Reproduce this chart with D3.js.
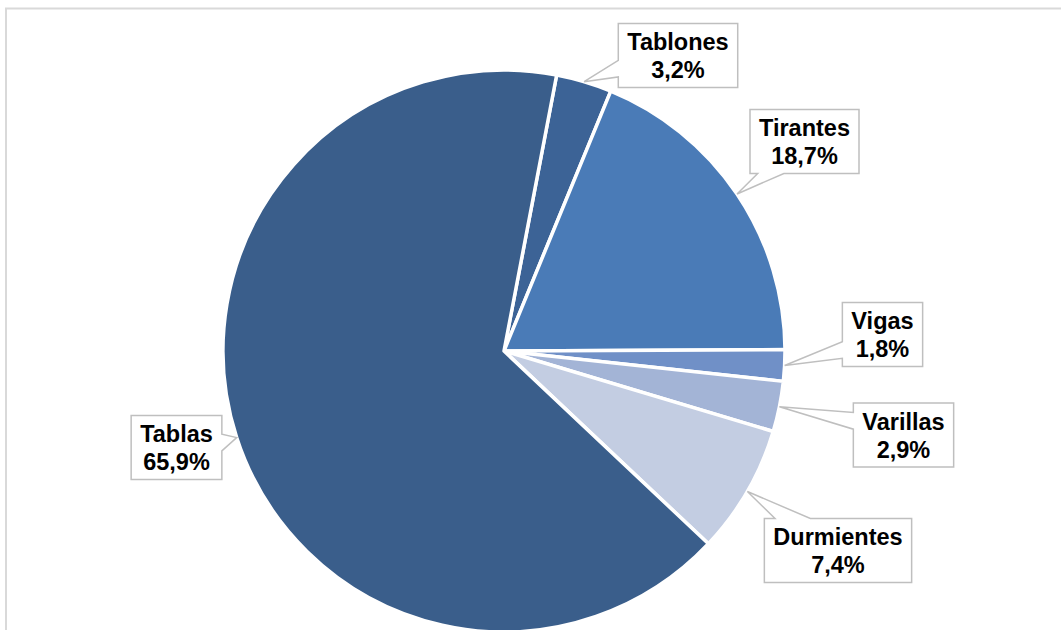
<!DOCTYPE html>
<html><head><meta charset="utf-8">
<script src="https://cdn.jsdelivr.net/npm/d3@7"></script>
<style>html,body{margin:0;padding:0;background:#fff;overflow:hidden}</style>
</head><body>
<svg id="c" width="1061" height="630"></svg>
<script>
const categories = ["Tablones", "Tirantes", "Vigas", "Varillas", "Durmientes", "Tablas"];
const values = [3.2, 18.7, 1.8, 2.9, 7.4, 65.9];
const labels = ["3,2%", "18,7%", "1,8%", "2,9%", "7,4%", "65,9%"];
const colors = ["#3c6396", "#4a7bb7", "#7090c7", "#a3b4d6", "#c3cde2", "#3a5e8b"];
// label box centres (layout)
const boxCenters = [[678, 55.5], [804.5, 141.5], [882.5, 334.5], [903.5, 435], [838, 550.5], [176.5, 447.5]];

const svg = d3.select("#c");
svg.append("rect").attr("x", 6).attr("y", 8.5).attr("width", 1070).attr("height", 640)
  .attr("fill", "#fff").attr("stroke", "#d9d9d9").attr("stroke-width", 2);

const cx = 504, cy = 351, R = 281;
const start = 10.8 * Math.PI / 180;
const pie = d3.pie().sort(null).value(d => d).startAngle(start).endAngle(start + 2 * Math.PI);
const arcs = pie(values);
const arc = d3.arc().innerRadius(0).outerRadius(R);
const g = svg.append("g").attr("transform", `translate(${cx},${cy})`);
g.selectAll("path").data(arcs).join("path")
  .attr("d", arc).attr("fill", (d, i) => colors[i])
  .attr("stroke", "#fff").attr("stroke-width", 3.5).attr("stroke-linejoin", "round");

const lg = svg.append("g");
arcs.forEach((a, i) => {
  const mid = (a.startAngle + a.endAngle) / 2;
  const tip = [cx + Math.sin(mid) * R, cy - Math.cos(mid) * R];
  const [bx, by] = boxCenters[i];
  const t = lg.append("text").attr("font-family", "Liberation Sans, Arial, sans-serif")
    .attr("font-weight", "bold").attr("font-size", 23.5).attr("fill", "#000")
    .attr("text-anchor", "middle");
  t.append("tspan").attr("x", bx).attr("y", by - 5.5).text(categories[i]);
  t.append("tspan").attr("x", bx).attr("y", by + 22.5).text(labels[i]);
  const bb = t.node().getBBox();
  const w = bb.width + 18, h = 64;
  const x0 = bx - w / 2, x1 = bx + w / 2, y0 = by - h / 2, y1 = by + h / 2;
  const dxo = tip[0] < x0 ? x0 - tip[0] : (tip[0] > x1 ? tip[0] - x1 : 0);
  const dyo = tip[1] < y0 ? y0 - tip[1] : (tip[1] > y1 ? tip[1] - y1 : 0);
  let pts;
  if (dxo >= dyo) {
    const half = h * 0.13;
    let c = (by + tip[1]) / 2; c = Math.max(y0 + half, Math.min(y1 - half, c));
    if (tip[0] < x0) pts = [[x0, y0], [x1, y0], [x1, y1], [x0, y1], [x0, c + half], tip, [x0, c - half]];
    else pts = [[x0, y0], [x1, y0], [x1, c - half], tip, [x1, c + half], [x1, y1], [x0, y1]];
  } else {
    const half = w * 0.12;
    let c = (bx + tip[0]) / 2; c = Math.max(x0 + half, Math.min(x1 - half, c));
    if (tip[1] > y1) pts = [[x0, y0], [x1, y0], [x1, y1], [c + half, y1], tip, [c - half, y1], [x0, y1]];
    else pts = [[x0, y0], [c - half, y0], tip, [c + half, y0], [x1, y0], [x1, y1], [x0, y1]];
  }
  lg.insert("path", "text").attr("d", d3.line()(pts) + "Z")
    .attr("fill", "#fff").attr("stroke", "#bfbfbf").attr("stroke-width", 1.5);
});
</script>
</body></html>
